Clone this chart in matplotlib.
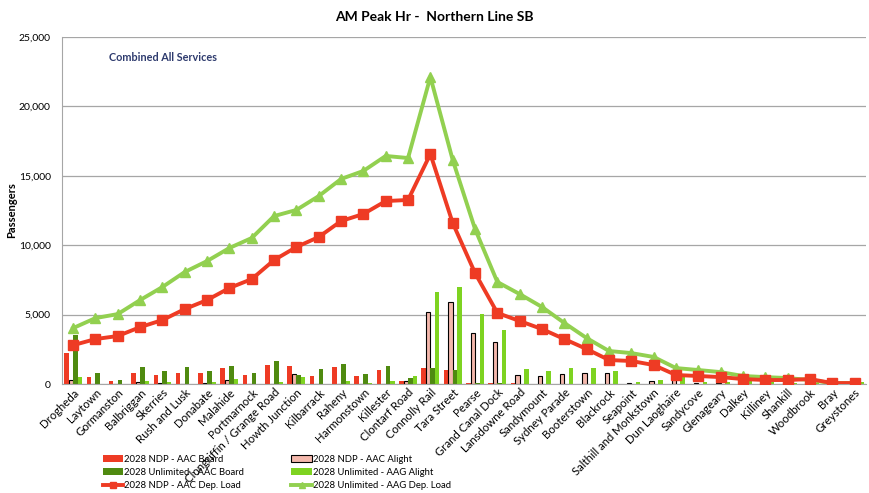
import matplotlib
matplotlib.use("Agg")
import matplotlib.pyplot as plt
import numpy as np

plt.rcParams["font.family"] = ["Lato", "DejaVu Sans"]

stations = ["Drogheda", "Laytown", "Gormanston", "Balbriggan", "Skerries", "Rush and Lusk",
            "Donabate", "Malahide", "Portmarnock", "Clongriffin / Grange Road", "Howth Junction",
            "Kilbarrack", "Raheny", "Harmonstown", "Killester", "Clontarf Road", "Connolly Rail",
            "Tara Street", "Pearse", "Grand Canal Dock", "Lansdowne Road", "Sandymount",
            "Sydney Parade", "Booterstown", "Blackrock", "Seapoint", "Salthill and Monkstown",
            "Dun Laoghaire", "Sandycove", "Glenageary", "Dalkey", "Killiney", "Shankill",
            "Woodbrook", "Bray", "Greystones"]

# 2028 NDP - AAC
ndp_board = [2250, 530, 220, 820, 650, 820, 820, 1180, 650, 1370, 1300, 580, 1200, 580, 1010, 240,
             1150, 1010, 50, 50, 50, 30, 30, 30, 30, 20, 20, 30, 20, 20, 20, 20, 20, 20, 20, 20]
ndp_alight = [290, 30, 30, 150, 100, 30, 100, 290, 30, 30, 720, 30, 30, 30, 30, 240,
              5160, 5910, 3700, 3050, 620, 580, 700, 790, 770, 100, 220, 800, 100, 100, 150, 100,
              100, 100, 100, 50]
ndp_load = [2800, 3240, 3460, 4100, 4610, 5400, 6050, 6920, 7560, 8930, 9870, 10590, 11740,
            12250, 13180, 13260, 16570, 11600, 8000, 5120, 4540, 3960, 3240, 2520, 1730, 1660,
            1370, 650, 580, 500, 360, 290, 290, 360, 70, 70]

# 2028 Unlimited - AAC / AAG
unl_board = [3530, 820, 290, 1250, 940, 1250, 940, 1300, 820, 1660, 650, 1080, 1440, 720, 1300, 430,
             1150, 1010, 50, 50, 30, 30, 30, 30, 30, 20, 20, 30, 20, 20, 20, 20, 20, 20, 20, 20]
unl_alight = [530, 30, 30, 220, 150, 30, 150, 360, 30, 150, 530, 30, 240, 100, 240, 580,
              6630, 6990, 5040, 3890, 1080, 940, 1150, 1170, 960, 150, 290, 700, 150, 150, 290, 150,
              100, 100, 100, 150]
unl_load = [4030, 4750, 5040, 6050, 6990, 8070, 8860, 9800, 10520, 12100, 12540, 13540, 14770,
            15350, 16430, 16280, 22120, 16140, 11170, 7350, 6480, 5550, 4400, 3310, 2380, 2230,
            1950, 1150, 1010, 860, 580, 500, 430, 290, 70, 70]

red = "#EE3B24"
pink = "#F4B8AC"
dgreen = "#4F8A10"
lgreen = "#7ED321"
lline = "#92D050"

fig = plt.figure(figsize=(8.69, 4.93), dpi=100)
ax = fig.add_axes([0.0713, 0.221, 0.925, 0.704])

x = np.arange(len(stations))
w = 0.2
b1 = ax.bar(x - 1.5 * w, ndp_board, w, color=red, label="2028 NDP - AAC Board", zorder=2)
b2 = ax.bar(x - 0.5 * w, ndp_alight, w, color=pink, edgecolor="black", linewidth=0.8,
            label="2028 NDP - AAC Alight", zorder=2)
b3 = ax.bar(x + 0.5 * w, unl_board, w, color=dgreen, label="2028 Unlimited - AAC Board", zorder=2)
b4 = ax.bar(x + 1.5 * w, unl_alight, w, color=lgreen, label="2028 Unlimited - AAG Alight", zorder=2)
l1, = ax.plot(x, ndp_load, color=red, lw=2.8, marker="s", ms=6.5, zorder=4,
              label="2028 NDP - AAC Dep. Load")
l2, = ax.plot(x, unl_load, color=lline, lw=2.8, marker="^", ms=7.5, zorder=3,
              label="2028 Unlimited - AAG Dep. Load")

ax.set_xlim(-0.5, len(stations) - 0.5)
ax.set_ylim(0, 25000)
ax.set_yticks(np.arange(0, 25001, 5000))
ax.set_yticklabels([f"{v:,}" for v in range(0, 25001, 5000)], fontsize=7.5)
ax.yaxis.grid(True, color="#A6A6A6", lw=0.9, zorder=0)
ax.set_axisbelow(True)
ax.tick_params(axis="y", length=0, pad=8)
ax.tick_params(axis="x", length=0, pad=2)
ax.set_xticks(x)
ax.set_xticklabels(stations, rotation=45, ha="right", rotation_mode="anchor", fontsize=8.2)
for s in ["top", "right"]:
    ax.spines[s].set_visible(False)
ax.spines["left"].set_color("#A6A6A6")
ax.spines["bottom"].set_color("#A6A6A6")

ax.set_ylabel("Passengers", fontsize=8, fontweight="bold")
ax.yaxis.set_label_coords(-0.056, 0.5)
fig.text(0.5, 0.965, "AM Peak Hr -  Northern Line SB", ha="center", va="center",
         fontsize=10, fontweight="bold")
ax.text(0.058, 0.94, "Combined All Services", transform=ax.transAxes, fontsize=7.8,
        fontweight="bold", color="#2E3B6E", va="center")

handles = [b1, b3, l1, b2, b4, l2]
fig.legend(handles=handles, labels=[h.get_label() for h in handles], ncol=2,
           loc="upper left", bbox_to_anchor=(0.118, 0.078), frameon=False, fontsize=6.8,
           handlelength=2.2, handletextpad=0.1, columnspacing=5.0, labelspacing=0.45,
           markerscale=0.6, borderaxespad=0, borderpad=0)

fig.savefig("out.png", dpi=100)
